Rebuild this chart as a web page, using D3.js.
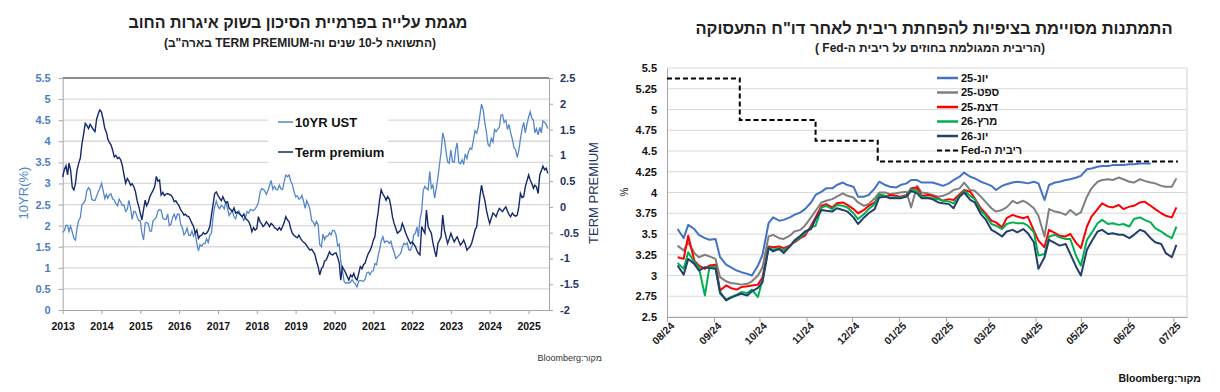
<!DOCTYPE html>
<html>
<head>
<meta charset="utf-8">
<script src="https://cdn.jsdelivr.net/npm/d3@7"></script>
<style>
    body {margin: 0; background: #fff;}
    svg {display: block; font-family: "Liberation Sans", "DejaVu Sans", sans-serif;}
</style>
</head>
<body>
<div id="chart"></div>
<script>
// ---------- left panel data: semi-monthly points (1st and 16th) from jan 2013 ----------
var ust10y = [
    1.84, 1.88, 2.01, 2.00, 1.86, 1.99, 1.85, 1.70, 1.66, 1.94, 2.13, 2.19, 2.50, 2.53, 2.60, 2.83, 2.90, 2.85, 2.63, 2.60, 2.60, 2.70, 2.80, 2.88,
    3.00, 2.84, 2.64, 2.74, 2.65, 2.73, 2.75, 2.63, 2.61, 2.52, 2.47, 2.63, 2.56, 2.48, 2.49, 2.34, 2.39, 2.60, 2.42, 2.15, 2.34, 2.33, 2.22, 2.12,
    2.12, 1.83, 1.66, 2.06, 2.08, 2.05, 1.87, 1.87, 2.12, 2.15, 2.20, 2.35, 2.38, 2.36, 2.18, 2.15, 2.15, 2.28, 2.00, 2.03, 2.20, 2.27, 2.15, 2.27,
    2.27, 2.03, 1.95, 1.78, 1.83, 1.94, 1.77, 1.77, 1.87, 1.75, 1.83, 1.58, 1.40, 1.55, 1.51, 1.57, 1.58, 1.69, 1.60, 1.77, 1.83, 2.22, 2.45, 2.58,
    2.45, 2.40, 2.48, 2.45, 2.40, 2.58, 2.40, 2.24, 2.30, 2.35, 2.21, 2.16, 2.30, 2.35, 2.26, 2.22, 2.12, 2.19, 2.33, 2.30, 2.38, 2.37, 2.36, 2.39,
    2.46, 2.55, 2.79, 2.88, 2.86, 2.83, 2.74, 2.83, 2.95, 3.07, 2.86, 2.93, 2.86, 2.85, 2.96, 2.87, 2.86, 3.05, 3.20, 3.16, 3.20, 3.06, 2.98, 2.82,
    2.68, 2.71, 2.63, 2.65, 2.72, 2.59, 2.41, 2.59, 2.50, 2.39, 2.12, 2.09, 2.00, 2.10, 2.02, 1.55, 1.50, 1.80, 1.67, 1.75, 1.75, 1.83, 1.78, 1.89,
    1.88, 1.79, 1.52, 1.56, 1.15, 0.95, 0.68, 0.64, 0.64, 0.64, 0.66, 0.72, 0.66, 0.62, 0.55, 0.68, 0.70, 0.69, 0.68, 0.73, 0.88, 0.90, 0.84, 0.92,
    0.93, 1.10, 1.07, 1.30, 1.42, 1.63, 1.74, 1.60, 1.63, 1.63, 1.58, 1.63, 1.47, 1.37, 1.22, 1.26, 1.30, 1.34, 1.49, 1.58, 1.55, 1.59, 1.43, 1.42,
    1.52, 1.78, 1.82, 1.97, 1.73, 2.14, 2.34, 2.83, 2.93, 2.88, 2.85, 3.28, 2.89, 2.96, 2.65, 2.88, 3.15, 3.45, 3.75, 4.20, 4.05, 3.76, 3.51, 3.48,
    3.79, 3.52, 3.50, 3.82, 3.96, 3.50, 3.47, 3.56, 3.45, 3.70, 3.59, 3.76, 3.84, 3.81, 4.03, 4.25, 4.19, 4.34, 4.62, 4.88, 4.75, 4.45, 4.22, 3.93,
    3.88, 4.07, 3.98, 4.28, 4.23, 4.28, 4.33, 4.62, 4.63, 4.45, 4.50, 4.28, 4.40, 4.20, 4.05, 3.85, 3.80, 3.62, 3.78, 4.05, 4.30, 4.45, 4.20, 4.40,
    4.57, 4.70, 4.54, 4.50, 4.20, 4.30, 4.15, 4.33, 4.20, 4.48, 4.45, 4.40, 4.30
];
var termPremium = [
    0.58, 0.72, 0.80, 0.62, 0.85, 0.72, 0.38, 0.33, 0.45, 0.72, 0.85, 0.95, 1.22, 1.40, 1.62, 1.58, 1.52, 1.60, 1.55, 1.50, 1.46, 1.70, 1.80, 1.88,
    1.84, 1.70, 1.52, 1.45, 1.32, 1.25, 1.20, 1.10, 0.97, 1.00, 0.94, 0.96, 0.91, 0.80, 0.62, 0.46, 0.55, 0.50, 0.42, 0.45, 0.39, 0.30, 0.13, 0.02,
    -0.12, -0.25, -0.05, 0.13, 0.02, 0.08, 0.20, 0.26, 0.32, 0.39, 0.59, 0.50, 0.52, 0.23, 0.28, 0.22, 0.25, 0.26, 0.24, 0.23, 0.18, 0.10, 0.12, 0.07,
    0.02, -0.06, -0.10, -0.16, -0.14, -0.18, -0.19, -0.25, -0.32, -0.38, -0.51, -0.45, -0.61, -0.56, -0.55, -0.50, -0.53, -0.51, -0.46, -0.38, -0.15, 0.05, 0.26, 0.29,
    0.22, 0.17, 0.12, 0.20, 0.13, 0.08, 0.10, -0.03, -0.05, -0.09, -0.02, -0.12, -0.10, -0.12, -0.16, -0.19, -0.14, -0.22, -0.25, -0.28, -0.36, -0.48, -0.40, -0.45,
    -0.42, -0.19, -0.29, -0.33, -0.38, -0.35, -0.29, -0.33, -0.38, -0.32, -0.35, -0.40, -0.42, -0.45, -0.40, -0.45, -0.38, -0.30, -0.19, -0.25, -0.29, -0.42, -0.51, -0.55,
    -0.58, -0.60, -0.55, -0.61, -0.65, -0.68, -0.71, -0.75, -0.80, -0.84, -0.82, -0.87, -0.92, -1.05, -1.16, -1.32, -1.20, -1.16, -1.05, -1.03, -0.95, -0.87, -0.92, -0.93,
    -0.90, -0.89, -0.98, -1.09, -1.42, -1.16, -1.22, -1.28, -1.35, -1.42, -1.32, -1.36, -1.29, -1.38, -1.42, -1.30, -1.16, -1.20, -1.12, -1.09, -0.98, -0.90, -0.85, -0.77,
    -0.65, -0.58, -0.30, -0.10, 0.13, 0.33, 0.25, 0.20, 0.13, 0.20, 0.15, 0.00, -0.20, -0.32, -0.42, -0.51, -0.48, -0.45, -0.32, -0.40, -0.50, -0.58, -0.65, -0.71,
    -0.68, -0.72, -0.77, -0.85, -0.90, -0.93, -0.38, -0.45, -0.51, -0.06, -0.38, -0.45, -0.51, -0.70, -0.85, -0.97, -0.71, -0.65, -0.58, -0.16, -0.45, -0.58, -0.71, -0.62,
    -0.51, -0.60, -0.68, -0.62, -0.58, -0.66, -0.74, -0.70, -0.64, -0.72, -0.84, -0.80, -0.77, -0.70, -0.58, -0.45, -0.38, -0.10, 0.20, 0.42, 0.25, 0.13, -0.06, -0.20,
    -0.32, -0.22, -0.12, -0.15, -0.19, -0.10, -0.03, -0.06, -0.09, -0.04, 0.00, -0.08, -0.15, -0.19, -0.12, -0.16, -0.18, -0.16, 0.00, 0.26, 0.18, 0.20, 0.39, 0.50,
    0.62, 0.52, 0.45, 0.36, 0.42, 0.39, 0.26, 0.62, 0.70, 0.79, 0.72, 0.75, 0.65
];
var yearTicks = [2013, 2014, 2015, 2016, 2017, 2018, 2019, 2020, 2021, 2022, 2023, 2024, 2025];
var yieldTicks = [0, 0.5, 1, 1.5, 2, 2.5, 3, 3.5, 4, 4.5, 5, 5.5];
var premiumTicks = [-2, -1.5, -1, -0.5, 0, 0.5, 1, 1.5, 2, 2.5];
var leftNames = ["10YR UST", "Term premium"];

// ---------- right panel data: two readings a week (thu / mon) from 8 aug 2024 ----------
var futStart = "2024-08-08";
var jun25 = [
    3.56, 3.45, 3.61, 3.56, 3.49, 3.45, 3.43, 3.44, 3.22, 3.13, 3.10, 3.06, 3.04, 3.02, 3.00, 3.12, 3.25, 3.63, 3.70, 3.66,
    3.67, 3.70, 3.73, 3.76, 3.80, 3.88, 3.97, 4.01, 4.05, 4.05, 4.09, 4.12, 4.09, 4.07, 3.95, 3.95, 3.97, 4.05, 4.13, 4.09,
    4.07, 4.06, 4.09, 4.11, 4.15, 4.15, 4.12, 4.12, 4.12, 4.10, 4.08, 4.11, 4.15, 4.19, 4.24, 4.19, 4.17, 4.13, 4.11, 4.08,
    4.03, 4.08, 4.10, 4.12, 4.13, 4.12, 4.11, 4.13, 4.11, 3.91, 4.09, 4.12, 4.13, 4.15, 4.16, 4.18, 4.20, 4.28, 4.29, 4.31,
    4.32, 4.32, 4.33, 4.33, 4.33, 4.34, 4.34, 4.35, 4.35, 4.35, null, null, null, null, null
];
var sep25 = [
    3.36, 3.30, 3.40, 3.27, 3.22, 3.25, 3.23, 3.20, 2.98, 2.93, 2.91, 2.90, 2.89, 2.90, 2.93, 3.00, 3.10, 3.47, 3.49, 3.45,
    3.44, 3.48, 3.53, 3.55, 3.60, 3.70, 3.78, 3.88, 3.90, 3.92, 3.95, 3.99, 3.96, 3.94, 3.88, 3.84, 3.86, 3.93, 4.00, 4.00,
    3.98, 3.99, 4.00, 4.01, 3.82, 4.08, 4.00, 3.99, 3.97, 3.95, 3.96, 3.99, 4.03, 4.05, 4.12, 4.03, 4.02, 3.95, 3.89, 3.81,
    3.77, 3.79, 3.82, 3.90, 3.87, 3.90, 3.87, 3.81, 3.72, 3.47, 3.80, 3.77, 3.76, 3.73, 3.79, 3.73, 3.76, 3.95, 4.05, 4.13,
    4.15, 4.16, 4.15, 4.18, 4.16, 4.13, 4.12, 4.16, 4.14, 4.12, 4.11, 4.08, 4.07, 4.07, 4.17
];
var dec25 = [
    3.22, 3.20, 3.48, 3.18, 3.12, 3.08, 3.12, 3.13, 2.82, 2.88, 2.85, 2.83, 2.86, 2.87, 2.88, 2.89, 2.98, 3.35, 3.34, 3.35,
    3.33, 3.36, 3.40, 3.45, 3.48, 3.60, 3.70, 3.84, 3.86, 3.82, 3.87, 3.88, 3.85, 3.80, 3.75, 3.79, 3.84, 3.88, 3.97, 3.95,
    3.97, 3.96, 3.95, 3.97, 4.05, 4.06, 3.96, 3.97, 3.96, 3.93, 3.90, 3.92, 3.91, 3.98, 4.03, 4.01, 3.93, 3.81, 3.75, 3.66,
    3.64, 3.58, 3.69, 3.73, 3.71, 3.69, 3.71, 3.54, 3.42, 3.34, 3.55, 3.51, 3.48, 3.47, 3.50, 3.39, 3.33, 3.59, 3.71, 3.80,
    3.87, 3.83, 3.82, 3.85, 3.80, 3.83, 3.84, 3.88, 3.89, 3.84, 3.80, 3.75, 3.72, 3.70, 3.82
];
var mar26 = [
    3.15, 3.08, 3.28, 3.16, 3.10, 2.76, 3.10, 3.11, 2.78, 2.71, 2.74, 2.77, 2.80, 2.79, 2.83, 2.74, 2.95, 3.34, 3.31, 3.33,
    3.30, 3.35, 3.41, 3.46, 3.51, 3.58, 3.60, 3.82, 3.84, 3.80, 3.85, 3.84, 3.82, 3.75, 3.68, 3.74, 3.80, 3.86, 3.98, 3.96,
    3.94, 3.94, 3.94, 3.96, 4.04, 4.02, 3.95, 3.94, 3.93, 3.92, 3.90, 3.89, 3.87, 3.96, 4.02, 3.96, 3.92, 3.78, 3.73, 3.62,
    3.60, 3.56, 3.62, 3.64, 3.63, 3.63, 3.60, 3.52, 3.24, 3.26, 3.47, 3.49, 3.46, 3.44, 3.44, 3.23, 3.12, 3.43, 3.51, 3.63,
    3.67, 3.62, 3.63, 3.61, 3.62, 3.59, 3.68, 3.70, 3.67, 3.64, 3.57, 3.53, 3.49, 3.45, 3.59
];
var jun26 = [
    3.12, 3.01, 3.20, 3.14, 3.06, 3.10, 3.09, 3.08, 2.80, 2.70, 2.73, 2.76, 2.78, 2.76, 2.81, 2.85, 2.92, 3.33, 3.29, 3.32,
    3.27, 3.35, 3.42, 3.48, 3.53, 3.56, 3.68, 3.79, 3.78, 3.77, 3.81, 3.79, 3.77, 3.70, 3.62, 3.70, 3.75, 3.80, 3.94, 3.95,
    3.93, 3.93, 3.93, 3.95, 4.02, 3.99, 3.93, 3.93, 3.92, 3.88, 3.87, 3.86, 3.81, 3.95, 4.00, 3.91, 3.88, 3.74, 3.68, 3.55,
    3.52, 3.47, 3.53, 3.55, 3.52, 3.56, 3.51, 3.40, 3.08, 3.22, 3.43, 3.39, 3.36, 3.38, 3.26, 3.10, 3.00, 3.31, 3.41, 3.53,
    3.55, 3.50, 3.51, 3.49, 3.49, 3.45, 3.49, 3.55, 3.53, 3.45, 3.40, 3.38, 3.27, 3.22, 3.37
];
var futNames = ["יונ-25", "ספט-25", "דצמ-25", "מרץ-26", "יונ-26"];
var futColors = ["#4472c4", "#7f7f7f", "#ff0000", "#00b050", "#243f6e"];
var fedDates = ["2024-08-01", "2024-09-18", "2024-11-07", "2024-12-18", "2025-07-04"];
var fedRate = [5.375, 4.875, 4.625, 4.375, 4.375];
var monthTicks = ["2024-08-01", "2024-09-01", "2024-10-01", "2024-11-01", "2024-12-01", "2025-01-01",
    "2025-02-01", "2025-03-01", "2025-04-01", "2025-05-01", "2025-06-01", "2025-07-01"];
var futTicks = [2.5, 2.75, 3, 3.25, 3.5, 3.75, 4, 4.25, 4.5, 4.75, 5, 5.25, 5.5];

var parse = d3.timeParse("%Y-%m-%d");

var svg = d3.select("#chart")
    .append("svg")
    .attr("width", 1220)
    .attr("height", 392);

// =================== left chart ===================
var lx = d3.scaleTime()
    .domain([new Date(2013, 0, 1), new Date(2025, 6, 12)])
    .range([62.7, 549]);
var ly = d3.scaleLinear().domain([0, 5.5]).range([310, 78]);
var lyR = d3.scaleLinear().domain([-2, 2.5]).range([310, 78]);

var halfMonth = function(i) {
    return new Date(2013, Math.floor(i / 2), i % 2 ? 16 : 1);
};

var left = svg.append("g");

// gridlines
left.selectAll(".grid")
    .data(yieldTicks.filter(function(d) { return d > 0 && d < 5.5; }))
    .enter()
    .append("line")
    .attr("x1", lx.range()[0])
    .attr("x2", lx.range()[1])
    .attr("y1", d => ly(d))
    .attr("y2", d => ly(d))
    .attr("stroke", "#d9d9d9")
    .attr("stroke-width", 1.3);

left.append("line")
    .attr("x1", lx.range()[0])
    .attr("x2", lx.range()[1])
    .attr("y1", ly(5.5))
    .attr("y2", ly(5.5))
    .attr("stroke", "#1a1a1a")
    .attr("stroke-width", 1.2);

// axes
var styleAxis = function(g, color, size) {
    g.select(".domain").attr("stroke", "#a6a6a6");
    g.selectAll(".tick line").attr("stroke", "#a6a6a6");
    g.selectAll("text")
        .attr("fill", color)
        .attr("font-weight", "bold")
        .attr("font-size", size);
};

left.append("g")
    .attr("transform", "translate(" + lx.range()[0] + ",0)")
    .call(d3.axisLeft(ly).tickValues(yieldTicks).tickSize(4).tickPadding(8).tickSizeOuter(0)
        .tickFormat(d => String(d)))
    .call(g => styleAxis(g, "#4a7ec4", 11));

left.append("g")
    .attr("transform", "translate(549,0)")
    .call(d3.axisRight(lyR).tickValues(premiumTicks).tickSize(4).tickPadding(7).tickSizeOuter(0)
        .tickFormat(d => String(d)))
    .call(g => styleAxis(g, "#1f3464", 11));

left.append("g")
    .attr("transform", "translate(0,310)")
    .call(d3.axisBottom(lx).tickValues(yearTicks.map(y => new Date(y, 0, 1))).tickSize(4).tickPadding(9)
        .tickSizeOuter(0).tickFormat(d3.timeFormat("%Y")))
    .call(g => styleAxis(g, "#111", 10.5));

// lines
var tpLine = d3.line()
    .x(function(d, i) { return lx(halfMonth(i)); })
    .y(function(d) { return lyR(d); });
var yieldLine = d3.line()
    .x(function(d, i) { return lx(halfMonth(i)); })
    .y(function(d) { return ly(d); });

left.append("path")
    .datum(ust10y)
    .attr("d", yieldLine)
    .attr("fill", "none")
    .attr("stroke", "#5586cc")
    .attr("stroke-width", 1.3);

left.append("path")
    .datum(termPremium)
    .attr("d", tpLine)
    .attr("fill", "none")
    .attr("stroke", "#13296b")
    .attr("stroke-width", 1.4);

// legend box
left.append("rect")
    .attr("x", 268)
    .attr("y", 107)
    .attr("width", 120)
    .attr("height", 60)
    .attr("fill", "#fff");

var leftLegend = left.selectAll(".lleg")
    .data(leftNames)
    .enter()
    .append("g")
    .attr("transform", (d, i) => "translate(278," + (122 + i * 30) + ")");
leftLegend.append("line")
    .attr("x1", 0).attr("x2", 15)
    .attr("stroke", (d, i) => i === 0 ? "#5586cc" : "#13296b")
    .attr("stroke-width", 1.5);
leftLegend.append("text")
    .attr("x", 17)
    .attr("dy", "0.35em")
    .attr("font-size", 13)
    .attr("font-weight", "bold")
    .attr("fill", "#111")
    .text(d => d);

// axis titles
left.append("text")
    .attr("transform", "translate(28,193) rotate(-90)")
    .attr("text-anchor", "middle")
    .attr("font-size", 13)
    .attr("fill", "#5586cc")
    .text("10YR(%)");
left.append("text")
    .attr("transform", "translate(598,193) rotate(-90)")
    .attr("text-anchor", "middle")
    .attr("font-size", 13)
    .attr("fill", "#1f3464")
    .text("TERM PREMIUM");

// titles
left.append("text")
    .attr("x", 298).attr("y", 28)
    .attr("direction", "rtl")
    .attr("text-anchor", "middle")
    .attr("font-size", 16)
    .attr("font-weight", "bold")
    .attr("fill", "#222")
    .text("מגמת עלייה בפרמיית הסיכון בשוק איגרות החוב");
left.append("text")
    .attr("x", 300).attr("y", 47)
    .attr("direction", "rtl")
    .attr("text-anchor", "middle")
    .attr("font-size", 12)
    .attr("font-weight", "bold")
    .attr("fill", "#222")
    .text("(התשואה ל-10 שנים וה-TERM PREMIUM בארה\"ב)");
left.append("text")
    .attr("x", 602).attr("y", 361)
    .attr("direction", "rtl")
    .attr("text-anchor", "start")
    .attr("font-size", 9)
    .attr("fill", "#333")
    .text("מקור:Bloomberg");

// =================== right chart ===================
var rx = d3.scaleTime()
    .domain([parse("2024-08-01"), parse("2025-07-10")])
    .range([667, 1187]);
var ry = d3.scaleLinear().domain([2.5, 5.5]).range([317, 68]);

var futDate = function(i) {
    return d3.timeDay.offset(parse(futStart), Math.floor(i / 2) * 7 + (i % 2) * 4);
};

var right = svg.append("g");

right.selectAll(".grid")
    .data(futTicks)
    .enter()
    .append("line")
    .attr("x1", rx.range()[0])
    .attr("x2", rx.range()[1])
    .attr("y1", d => ry(d))
    .attr("y2", d => ry(d))
    .attr("stroke", "#d9d9d9")
    .attr("stroke-width", 1.2);

right.append("line")
    .attr("x1", rx.range()[1]).attr("x2", rx.range()[1])
    .attr("y1", ry(5.5)).attr("y2", ry(2.5))
    .attr("stroke", "#d9d9d9")
    .attr("stroke-width", 1.2);

right.append("g")
    .attr("transform", "translate(667,0)")
    .call(d3.axisLeft(ry).tickValues(futTicks).tickSize(0).tickPadding(10).tickFormat(d => String(d)))
    .call(g => styleAxis(g, "#111", 11));

var xAxisR = right.append("g")
    .attr("transform", "translate(0,317)")
    .call(d3.axisBottom(rx).tickValues(monthTicks.map(parse)).tickSize(5).tickSizeOuter(0)
        .tickFormat(d3.timeFormat("%m/%y")))
    .call(g => styleAxis(g, "#222", 10.5));
xAxisR.selectAll(".tick text")
    .attr("text-anchor", "end")
    .attr("transform", "translate(5,7) rotate(-45)")
    .attr("dy", "0.35em")
    .attr("y", 0);

// fed rate step line
var fedLine = d3.line()
    .curve(d3.curveStepAfter)
    .x(function(d, i) { return rx(parse(fedDates[i])); })
    .y(function(d) { return ry(d); });
right.append("path")
    .datum(fedRate)
    .attr("d", fedLine)
    .attr("fill", "none")
    .attr("stroke", "#000")
    .attr("stroke-width", 2)
    .attr("stroke-dasharray", "5,3");

var futLine = d3.line()
    .defined(d => d !== null)
    .x(function(d, i) { return rx(futDate(i)); })
    .y(function(d) { return ry(d); });

var futSeries = [jun25, sep25, dec25, mar26, jun26];
right.selectAll(".fut")
    .data(futSeries)
    .enter()
    .append("path")
    .attr("d", futLine)
    .attr("fill", "none")
    .attr("stroke", (d, i) => futColors[i])
    .attr("stroke-width", 2)
    .attr("stroke-linejoin", "round");

// legend
var rightLegend = right.selectAll(".rleg")
    .data(futNames.concat(["ריבית ה-Fed"]))
    .enter()
    .append("g")
    .attr("transform", (d, i) => "translate(937," + (78 + i * 14.5) + ")");
rightLegend.append("line")
    .attr("x1", 0).attr("x2", 21)
    .attr("stroke", (d, i) => i < 5 ? futColors[i] : "#000")
    .attr("stroke-width", (d, i) => i < 5 ? 2.5 : 2)
    .attr("stroke-dasharray", (d, i) => i < 5 ? null : "5,3");
rightLegend.append("text")
    .attr("x", 24)
    .attr("dy", "0.35em")
    .attr("direction", "rtl")
    .attr("text-anchor", "end")
    .attr("font-size", 11)
    .attr("font-weight", "bold")
    .attr("fill", "#111")
    .text(d => d);

right.append("text")
    .attr("transform", "translate(628,192) rotate(-90)")
    .attr("text-anchor", "middle")
    .attr("font-size", 10)
    .attr("fill", "#111")
    .text("%");

right.append("text")
    .attr("x", 934).attr("y", 34)
    .attr("direction", "rtl")
    .attr("text-anchor", "middle")
    .attr("font-size", 16.5)
    .attr("font-weight", "bold")
    .attr("fill", "#222")
    .text("התמתנות מסויימת בציפיות להפחתת ריבית לאחר דו\"ח התעסוקה");
right.append("text")
    .attr("x", 930).attr("y", 52)
    .attr("direction", "rtl")
    .attr("text-anchor", "middle")
    .attr("font-size", 12)
    .attr("font-weight", "bold")
    .attr("fill", "#222")
    .text("(הריבית המגולמת בחוזים על ריבית ה-Fed )");
right.append("text")
    .attr("x", 1201).attr("y", 382)
    .attr("direction", "rtl")
    .attr("text-anchor", "start")
    .attr("font-size", 10.5)
    .attr("font-weight", "bold")
    .attr("fill", "#111")
    .text("מקור:Bloomberg");
</script>
</body>
</html>
